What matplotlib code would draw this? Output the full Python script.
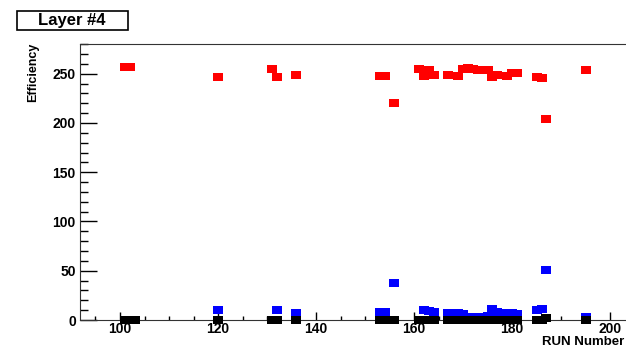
import numpy as np
import matplotlib
matplotlib.use("Agg")
import matplotlib.pyplot as plt
from matplotlib.ticker import MultipleLocator
from matplotlib.patches import Rectangle

plt.rcParams['font.family'] = ['Liberation Sans', 'DejaVu Sans']

# runs and efficiencies
runs = [101, 102, 120, 131, 132, 136, 153, 154, 156, 161, 162, 163, 164,
        167, 169, 170, 171, 172, 173, 175, 176, 177, 179, 180, 181,
        185, 186, 187, 195]
red = [257, 257, 247, 255, 247, 249, 248, 248, 220, 255, 248, 254, 249,
       249, 248, 255, 256, 255, 254, 254, 247, 249, 248, 251, 251,
       247, 246, 204, 254]
blue = [0, 0, 10, 0, 10, 7, 8, 8, 38, 0, 10, 9, 8,
        7, 7, 6, 3, 2, 3, 4, 11, 8, 7, 7, 6,
        10, 11, 51, 3]
black_runs = [101, 102, 103, 120, 131, 132, 136, 153, 154, 156, 161, 162, 163, 164,
              167, 169, 170, 171, 172, 173, 175, 176, 177, 179, 180, 181,
              185, 186, 187, 195]
black = [0] * 28 + [2, 0]

# ROOT full square, a bit stretched
box = [(-1, -0.8), (1, -0.8), (1, 0.8), (-1, 0.8), (-1, -0.8)]

fig = plt.figure(figsize=(6.26, 3.47), dpi=100)
ax = fig.add_axes([0.1278, 0.0778, 0.886, 0.795])

kw = dict(marker=box, s=52, linewidths=0, clip_on=False, zorder=3)
ax.scatter(runs, red, color='#ff0000', **kw)
ax.scatter(runs, blue, color='#0000ff', **kw)
ax.scatter(black_runs, black, color='black', **kw)

ax.set_xlim(91.84, 205)
ax.set_ylim(0, 280)
ax.xaxis.set_major_locator(MultipleLocator(20))
ax.xaxis.set_minor_locator(MultipleLocator(5))
ax.yaxis.set_major_locator(MultipleLocator(50))
ax.yaxis.set_minor_locator(MultipleLocator(10))
ax.tick_params(axis='x', which='major', direction='in', length=6, width=1, pad=1.5)
ax.tick_params(axis='x', which='minor', direction='in', length=3, width=1)
ax.tick_params(axis='y', which='major', direction='in', length=12, width=1, pad=3)
ax.tick_params(axis='y', which='minor', direction='in', length=6, width=1)
ax.tick_params(top=False, right=False, labelsize=10)
for lab in ax.get_xticklabels() + ax.get_yticklabels():
    lab.set_fontweight('bold')
for sp in ax.spines.values():
    sp.set_color('#333333')

fig.text(0.053, 0.876, 'Efficiency', rotation=90, ha='center', va='top',
         fontsize=9, fontweight='bold')
# axis title runs off the right edge, as in the original
fig.text(0.866, 2 / 347, 'RUN Number', ha='left', va='baseline',
         fontsize=9.5, fontweight='bold')

# title box
fig.add_artist(Rectangle((17 / 626, 1 - 30 / 347), 111 / 626, 19 / 347,
                         transform=fig.transFigure, fc='white', ec='black', lw=1.2))
fig.text(72 / 626, 1 - 20.5 / 347, 'Layer #4', ha='center', va='center',
         fontsize=12, fontweight='bold')

fig.savefig('out.png', dpi=100)
